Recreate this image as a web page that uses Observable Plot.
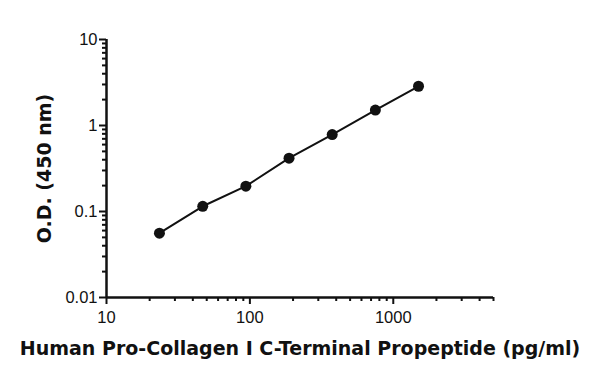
<!DOCTYPE html>
<html>
<head>
<meta charset="utf-8">
<script src="https://cdn.jsdelivr.net/npm/d3@7"></script>
<script src="https://cdn.jsdelivr.net/npm/@observablehq/plot@0.6"></script>
<style>
  html, body { margin: 0; padding: 0; background: #fff; }
  #chart svg { display: block; }
  #chart g[aria-label$="tick label"] { font-size: 16.5px; font-family: 'Liberation Sans', Arial, sans-serif; fill: #111; }
  #chart g[aria-label$="tick"] { stroke-width: 2px; }
</style>
</head>
<body>
<div id="chart"></div>
<script>
const concentrations = [23.4, 46.9, 93.75, 187.5, 375, 750, 1500];
const od = [0.056, 0.115, 0.197, 0.417, 0.785, 1.51, 2.86];
const xMajorTicks = [10, 100, 1000];
const yMajorTicks = [0.01, 0.1, 1, 10];
const xLabel = "Human Pro-Collagen I C-Terminal Propeptide (pg/ml)";
const yLabel = "O.D. (450 nm)";

const data = concentrations.map((c, i) => ({x: c, y: od[i]}));

function minorTicks(lo, hi) {
  const out = [];
  for (let d = lo; d < hi; d *= 10) {
    for (let k = 2; k <= 9; k++) {
      const v = d * k;
      if (v <= hi * 1.0001) out.push(v);
    }
  }
  return out;
}
const xMinor = minorTicks(10, 5000);
const yMinor = minorTicks(0.01, 10);

const chart = Plot.plot({
  width: 600,
  height: 377,
  marginLeft: 106,
  marginRight: 107,
  marginTop: 39,
  marginBottom: 80,
  style: {fontFamily: "'Liberation Sans', Arial, sans-serif", fontSize: "16.5px", color: "#111", background: "#fff"},
  x: {type: "log", domain: [10, 5000]},
  y: {type: "log", domain: [0.01, 10]},
  marks: [
    Plot.axisX({ticks: xMinor, tickSize: 4, tickFormat: () => "", label: null, strokeWidth: 2}),
    Plot.axisX({ticks: xMajorTicks, tickSize: 7, tickPadding: 7, tickFormat: d => String(d), label: null, strokeWidth: 2}),
    Plot.axisY({ticks: yMinor, tickSize: 4, tickFormat: () => "", label: null, strokeWidth: 2}),
    Plot.axisY({ticks: yMajorTicks, tickSize: 7, tickPadding: 2, tickFormat: d => String(d), label: null, strokeWidth: 2}),
    Plot.ruleY([0.01], {stroke: "#111", strokeWidth: 2.5}),
    Plot.ruleX([10], {stroke: "#111", strokeWidth: 2.5}),
    Plot.line(data, {x: "x", y: "y", stroke: "#111", strokeWidth: 2}),
    Plot.dot(data, {x: "x", y: "y", r: 5.5, fill: "#111", stroke: "none"}),
    Plot.text([yLabel], {frameAnchor: "left", textAnchor: "middle", lineAnchor: "middle", rotate: -90, dx: -62, fontSize: 19, fontWeight: "bold", fill: "#111", fontFamily: "'DejaVu Sans', sans-serif"}),
    Plot.text([xLabel], {frameAnchor: "bottom", textAnchor: "middle", lineAnchor: "middle", dy: 51, fontSize: 19, fontWeight: "bold", fill: "#111", fontFamily: "'DejaVu Sans', sans-serif"})
  ]
});
document.getElementById("chart").appendChild(chart);
</script>
</body>
</html>
